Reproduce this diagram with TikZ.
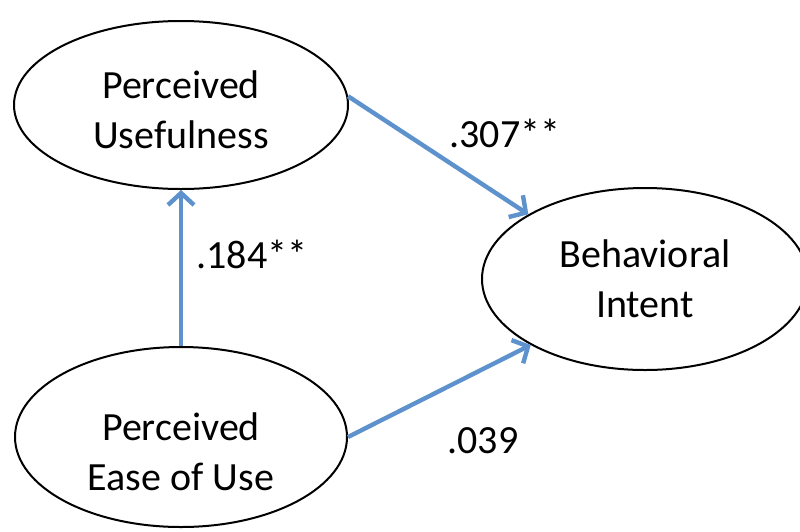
\documentclass[tikz,border=0pt]{standalone}
\usepackage{fontspec}
\setmainfont{Carlito}
\usetikzlibrary{shapes.geometric,arrows.meta}
\definecolor{arrowblue}{RGB}{94,146,204}
\tikzset{
  construct/.style={ellipse, draw=black, line width=2pt, fill=white, inner sep=0pt},
  ctext/.style={align=center, font=\fontsize{40}{50}\selectfont, inner sep=0pt},
  path/.style={draw=arrowblue, line width=4.4pt,
    -{Straight Barb[length=12pt,width=26pt,line width=4.4pt]}},
  coef/.style={font=\fontsize{40}{50}\selectfont, inner sep=0pt}
}
\begin{document}
\begin{tikzpicture}[x=1pt,y=-1pt]
\useasboundingbox (0,0) rectangle (800,531);
\node[construct, minimum width=334pt, minimum height=168pt,
  label={[ctext, yshift=-5pt]center:Perceived\\Usefulness}] (pu) at (181,105) {};
\node[construct, minimum width=326pt, minimum height=182pt,
  label={[ctext]center:Behavioral\\Intent}] (bi) at (645,279) {};
\node[construct, minimum width=332pt, minimum height=180pt,
  label={[ctext, yshift=-15pt]center:Perceived\\Ease of Use}] (peou) at (181,437) {};
\draw[path] (pu.3) -- (bi.151);
\draw[path] (peou.north) -- (pu.south);
\draw[path] (peou.0) -- (bi.210);
\node[coef] (c1) at (505,133) {.307**};
\node[coef] (c2) at (252,254) {.184**};
\node[coef] (c3) at (483,441) {.039};
\end{tikzpicture}
\end{document}
